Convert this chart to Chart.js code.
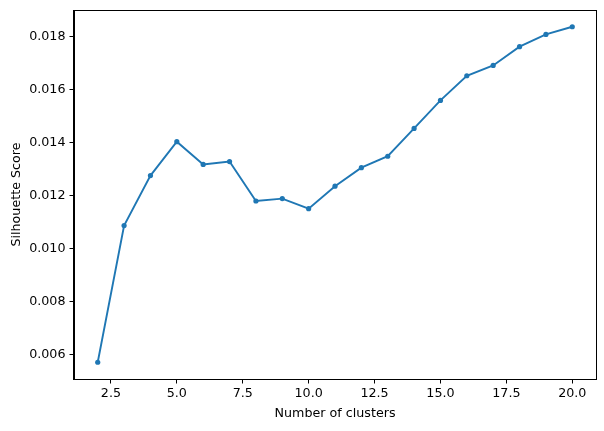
<!DOCTYPE html>
<html>
<head>
<meta charset="utf-8">
<script src="https://cdn.jsdelivr.net/npm/chart.js@4"></script>
<style>
html,body{margin:0;padding:0;background:#fff;}
canvas{display:block;}
</style>
</head>
<body>
<canvas id="c" width="604" height="431"></canvas>
<script>
const clusters = [2,3,4,5,6,7,8,9,10,11,12,13,14,15,16,17,18,19,20];
const silhouette = [0.00570,0.01086,0.01275,0.01403,0.01317,0.01328,0.01179,0.01188,0.01150,0.01235,0.01305,0.01348,0.01453,0.01559,0.01652,0.01691,0.01762,0.01808,0.01837];
const xTicks = [2.5,5.0,7.5,10.0,12.5,15.0,17.5,20.0];
const yTicks = [0.006,0.008,0.010,0.012,0.014,0.016,0.018];

const xMin = 2 - 0.05*(20-2), xMax = 20 + 0.05*(20-2);
const yLo = Math.min(...silhouette), yHi = Math.max(...silhouette);
const yMin = yLo - 0.05*(yHi-yLo), yMax = yHi + 0.05*(yHi-yLo);

const FONT = {family:'DejaVu Sans', size:12.7};

const frame = {
  id:'frame',
  afterDraw(chart){
    const {ctx, chartArea:a} = chart;
    ctx.save();
    ctx.strokeStyle='#000';
    ctx.lineWidth=1;
    ctx.strokeRect(Math.round(a.left)-0.5, Math.round(a.top)+0.5, Math.round(a.right-a.left)+1, Math.round(a.bottom-a.top));
    ctx.restore();
  }
};

function zeroPad(s){ s.paddingTop=0; s.paddingBottom=0; s.paddingLeft=0; s.paddingRight=0; }

new Chart(document.getElementById('c'), {
  type:'scatter',
  data:{
    datasets:[{
      data: clusters.map((x,i)=>({x:x, y:silhouette[i]})),
      showLine:true,
      borderColor:'#1f77b4',
      backgroundColor:'#1f77b4',
      borderWidth:1.9,
      pointRadius:2.6,
      pointBorderWidth:0,
      pointHoverRadius:2.6,
      tension:0
    }]
  },
  options:{
    responsive:false,
    animation:false,
    devicePixelRatio:1,
    layout:{padding:{top:10,right:8,left:0,bottom:0}},
    plugins:{legend:{display:false},tooltip:{enabled:false}},
    scales:{
      x:{
        type:'linear', min:xMin, max:xMax,
        afterBuildTicks(s){ s.ticks = xTicks.map(v=>({value:v})); },
        afterFit(s){ s.height = 52; zeroPad(s); },
        ticks:{color:'#000', font:FONT, padding:3, maxRotation:0, autoSkip:false,
          callback:(v)=>Number(v).toFixed(1)},
        grid:{drawOnChartArea:false, drawTicks:true, tickLength:4.5, tickColor:'#000', tickWidth:1},
        border:{display:true, color:'#000', width:1},
        title:{display:true, text:'Number of clusters', color:'#000', font:FONT, padding:{top:0,bottom:10}}
      },
      y:{
        type:'linear', min:yMin, max:yMax,
        afterBuildTicks(s){ s.ticks = yTicks.map(v=>({value:v})); },
        afterFit(s){ s.width = 74; zeroPad(s); },
        ticks:{color:'#000', font:FONT, padding:4, autoSkip:false,
          callback:(v)=>Number(v).toFixed(3)},
        grid:{drawOnChartArea:false, drawTicks:true, tickLength:4.5, tickColor:'#000', tickWidth:1},
        border:{display:true, color:'#000', width:1},
        title:{display:true, text:'Silhouette Score', color:'#000', font:FONT, padding:{top:9,bottom:0}}
      }
    }
  },
  plugins:[frame]
});
</script>
</body>
</html>
